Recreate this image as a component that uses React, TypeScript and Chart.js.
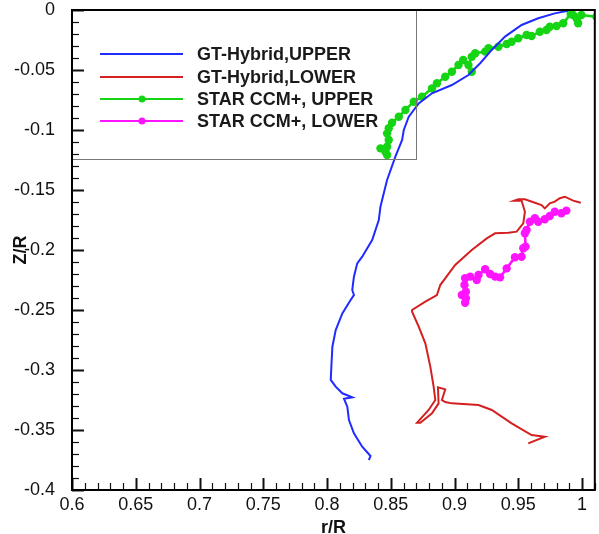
import React, { useEffect, useRef } from 'react';
import { Chart, registerables } from 'chart.js';
Chart.register(...registerables);

const FONT = 'Liberation Sans, Arial, Helvetica, sans-serif';

const xTickValues = [0.6, 0.65, 0.7, 0.75, 0.8, 0.85, 0.9, 0.95, 1];
const yTickValues = [-0.4, -0.35, -0.3, -0.25, -0.2, -0.15, -0.1, -0.05, 0];

const seriesLabels = ['GT-Hybrid,UPPER', 'GT-Hybrid,LOWER', 'STAR CCM+, UPPER', 'STAR CCM+, LOWER'];
const seriesColors = ['#1f2bff', '#d42020', '#14d414', '#ff14ff'];

const gtUpperR = [0.989, 0.9786, 0.9656, 0.9526, 0.9396, 0.9292, 0.9201, 0.9109, 0.8979, 0.8823, 0.8719, 0.8641, 0.8602, 0.8589, 0.8536, 0.8471, 0.8445, 0.8419, 0.8406, 0.8354, 0.8276, 0.8237, 0.8211, 0.8198, 0.8211, 0.8185, 0.812, 0.8068, 0.8042, 0.8034, 0.8029, 0.8068, 0.812, 0.8198, 0.8133, 0.8159, 0.8172, 0.8211, 0.8276, 0.8341, 0.8328];
const gtUpperZ = [-0.0006, -0.0028, -0.0069, -0.0125, -0.0222, -0.0333, -0.0444, -0.0542, -0.0625, -0.0694, -0.0778, -0.0889, -0.1, -0.1083, -0.1222, -0.1417, -0.1528, -0.1639, -0.175, -0.1917, -0.2056, -0.2111, -0.2222, -0.2333, -0.2375, -0.2417, -0.2528, -0.2667, -0.2806, -0.2972, -0.3083, -0.3139, -0.3194, -0.3228, -0.3239, -0.3306, -0.3417, -0.3528, -0.3639, -0.3717, -0.375];

const gtLowerR = [0.999, 0.993, 0.9865, 0.9826, 0.9786, 0.9747, 0.9708, 0.9682, 0.963, 0.9552, 0.95, 0.9469, 0.9526, 0.9552, 0.9539, 0.9487, 0.9422, 0.9318, 0.9253, 0.9135, 0.9005, 0.8888, 0.8862, 0.8771, 0.8667, 0.8667, 0.8719, 0.8771, 0.881, 0.8836, 0.8849, 0.8797, 0.8706, 0.8732, 0.8823, 0.8875, 0.887, 0.8927, 0.8901, 0.8927, 0.8979, 0.9188, 0.9292, 0.9448, 0.9604, 0.9708, 0.9578];
const gtLowerZ = [-0.1606, -0.1589, -0.1556, -0.1569, -0.1597, -0.1611, -0.1653, -0.1625, -0.1606, -0.1578, -0.1578, -0.1589, -0.1589, -0.1681, -0.1778, -0.1847, -0.1856, -0.1861, -0.1903, -0.2, -0.2125, -0.2292, -0.2375, -0.2431, -0.25, -0.2514, -0.2639, -0.2778, -0.2972, -0.3139, -0.325, -0.3333, -0.3439, -0.3439, -0.3361, -0.3278, -0.3144, -0.3161, -0.325, -0.3267, -0.3278, -0.3292, -0.3333, -0.3444, -0.3542, -0.3556, -0.3611];

const starUpperR = [0.8471, 0.8458, 0.8419, 0.8471, 0.8484, 0.8471, 0.8484, 0.851, 0.8563, 0.8615, 0.868, 0.8745, 0.8823, 0.8862, 0.8927, 0.8979, 0.9031, 0.9068, 0.9135, 0.9109, 0.9135, 0.9162, 0.924, 0.9266, 0.9344, 0.9409, 0.9448, 0.95, 0.9565, 0.9604, 0.9669, 0.9721, 0.9747, 0.98, 0.9852, 0.9911, 0.993, 0.9956, 0.9969, 0.9995, 1.0112];
const starUpperZ = [-0.1208, -0.1181, -0.1153, -0.1139, -0.1083, -0.1028, -0.0986, -0.0939, -0.0889, -0.0833, -0.0764, -0.0722, -0.0653, -0.0611, -0.0556, -0.0514, -0.0458, -0.0417, -0.0514, -0.0458, -0.0389, -0.0361, -0.0347, -0.0319, -0.0306, -0.0283, -0.0264, -0.0236, -0.0208, -0.0217, -0.0181, -0.0167, -0.0139, -0.0133, -0.0111, -0.0033, -0.0042, -0.0069, -0.0111, -0.0042, -0.0056];

const starLowerR = [0.9877, 0.9838, 0.9786, 0.9747, 0.9708, 0.9656, 0.963, 0.9591, 0.9565, 0.9552, 0.9557, 0.9539, 0.9526, 0.9474, 0.9409, 0.9357, 0.9318, 0.9279, 0.924, 0.9188, 0.9174, 0.9123, 0.9083, 0.9078, 0.9089, 0.9057, 0.9089, 0.9083];
const starLowerZ = [-0.1672, -0.1694, -0.1681, -0.1717, -0.1744, -0.1764, -0.1736, -0.1764, -0.1833, -0.1861, -0.1972, -0.1986, -0.2056, -0.2061, -0.2153, -0.2228, -0.2222, -0.22, -0.2161, -0.2208, -0.225, -0.2222, -0.2236, -0.2292, -0.2347, -0.2375, -0.2403, -0.2439];

const toPoints = (r: number[], z: number[]) => r.map((v, i) => ({ x: v, y: z[i] }));
const fmt = (v: number) => String(Number(v.toFixed(3)));

const framePlugin = {
  id: 'frame',
  afterDatasetsDraw(chart: any) {
    const { ctx, chartArea } = chart;
    const { left, right, top, bottom } = chartArea;
    const xs = chart.scales.x;
    const ys = chart.scales.y;
    ctx.save();
    // legend box
    ctx.strokeStyle = '#777';
    ctx.lineWidth = 1;
    ctx.strokeRect(left + 0.5, top + 0.5, 344, 149);
    const rowY = [44, 67, 89, 111];
    chart.data.datasets.forEach((ds: any, i: number) => {
      const y = top + rowY[i];
      ctx.strokeStyle = ds.borderColor;
      ctx.lineWidth = Math.min(ds.borderWidth, 2.2);
      ctx.beginPath();
      ctx.moveTo(left + 28, y);
      ctx.lineTo(left + 111, y);
      ctx.stroke();
      if (ds.pointRadius > 0) {
        ctx.fillStyle = ds.borderColor;
        ctx.beginPath();
        ctx.arc(left + 70, y, 3.5, 0, Math.PI * 2);
        ctx.fill();
      }
      ctx.fillStyle = '#1a1a1a';
      ctx.font = `bold 18px ${FONT}`;
      ctx.textBaseline = 'middle';
      ctx.textAlign = 'left';
      ctx.fillText(ds.label, left + 125, y + 1);
    });
    // ticks
    ctx.strokeStyle = '#111';
    for (let k = 0; k <= 41; k++) {
      const v = 0.6 + k * 0.01;
      if (v > xs.max + 1e-9) break;
      const px = Math.round(xs.getPixelForValue(v)) + 0.5;
      const major = k % 5 === 0;
      ctx.lineWidth = major ? 2 : 1.2;
      ctx.beginPath();
      ctx.moveTo(px, bottom);
      ctx.lineTo(px, bottom - (major ? 12 : 7));
      ctx.stroke();
    }
    for (let k = 0; k <= 40; k++) {
      const v = -0.4 + k * 0.01;
      const py = Math.round(ys.getPixelForValue(v)) + 0.5;
      const major = k % 5 === 0;
      ctx.lineWidth = major ? 2 : 1.2;
      ctx.beginPath();
      ctx.moveTo(left, py);
      ctx.lineTo(left + (major ? 12 : 7), py);
      ctx.stroke();
    }
    // frame
    ctx.strokeStyle = '#000';
    ctx.lineWidth = 2;
    ctx.strokeRect(left, top, right - left, bottom - top);
    ctx.restore();
  },
};

export default function App() {
  const ref = useRef<HTMLCanvasElement | null>(null);
  useEffect(() => {
    if (!ref.current) return;
    const mk = (i: number, r: number[], z: number[], bw: number, pr: number) => ({
      label: seriesLabels[i],
      data: toPoints(r, z),
      borderColor: seriesColors[i],
      backgroundColor: seriesColors[i],
      pointBackgroundColor: seriesColors[i],
      pointBorderColor: seriesColors[i],
      borderWidth: bw,
      pointRadius: pr,
      pointBorderWidth: 0,
      showLine: true,
      fill: false,
      tension: 0,
    });
    const chart = new Chart(ref.current, {
      type: 'scatter',
      data: {
        datasets: [
          mk(0, gtUpperR, gtUpperZ, 2, 0),
          mk(1, gtLowerR, gtLowerZ, 2, 0),
          mk(2, starUpperR, starUpperZ, 2.6, 4.2),
          mk(3, starLowerR, starLowerZ, 2.6, 4.2),
        ],
      },
      options: {
        responsive: false,
        animation: false,
        layout: { padding: { top: 10, right: 3, left: 0, bottom: 0 } },
        plugins: { legend: { display: false }, tooltip: { enabled: false } },
        scales: {
          x: {
            type: 'linear',
            min: 0.6,
            max: 1.01,
            grid: { display: false },
            border: { display: false },
            ticks: {
              font: { size: 18, family: FONT },
              color: '#111',
              padding: -4,
              maxRotation: 0,
              autoSkip: false,
              callback: (v: any) => fmt(Number(v)),
            },
            afterBuildTicks: (s: any) => {
              s.ticks = xTickValues.map((v) => ({ value: v }));
            },
            afterFit: (s: any) => {
              s.height = 44;
              s.paddingLeft = 0;
              s.paddingRight = 0;
            },
            title: {
              display: true,
              text: 'r/R',
              color: '#111',
              font: { size: 18, weight: 'bold', family: FONT, lineHeight: 1 },
              padding: { top: 0, bottom: -3 },
            },
          },
          y: {
            type: 'linear',
            min: -0.4,
            max: 0,
            grid: { display: false },
            border: { display: false },
            ticks: {
              font: { size: 18, family: FONT },
              color: '#111',
              padding: 9,
              autoSkip: false,
              callback: (v: any) => fmt(Number(v)),
            },
            afterBuildTicks: (s: any) => {
              s.ticks = yTickValues.map((v) => ({ value: v }));
            },
            afterFit: (s: any) => {
              s.width = 72;
              s.paddingTop = 0;
              s.paddingBottom = 0;
            },
            title: {
              display: true,
              text: 'Z/R',
              color: '#111',
              font: { size: 18, weight: 'bold', family: FONT, lineHeight: 1 },
              padding: { top: 12, bottom: 0 },
            },
          },
        },
      },
      plugins: [framePlugin],
    } as any);
    return () => chart.destroy();
  }, []);
  return (
    <div style={{ position: 'fixed', left: 0, top: 0, width: 599, height: 534, background: '#fff' }}>
      <canvas ref={ref} width={599} height={534} style={{ display: 'block' }} />
    </div>
  );
}
